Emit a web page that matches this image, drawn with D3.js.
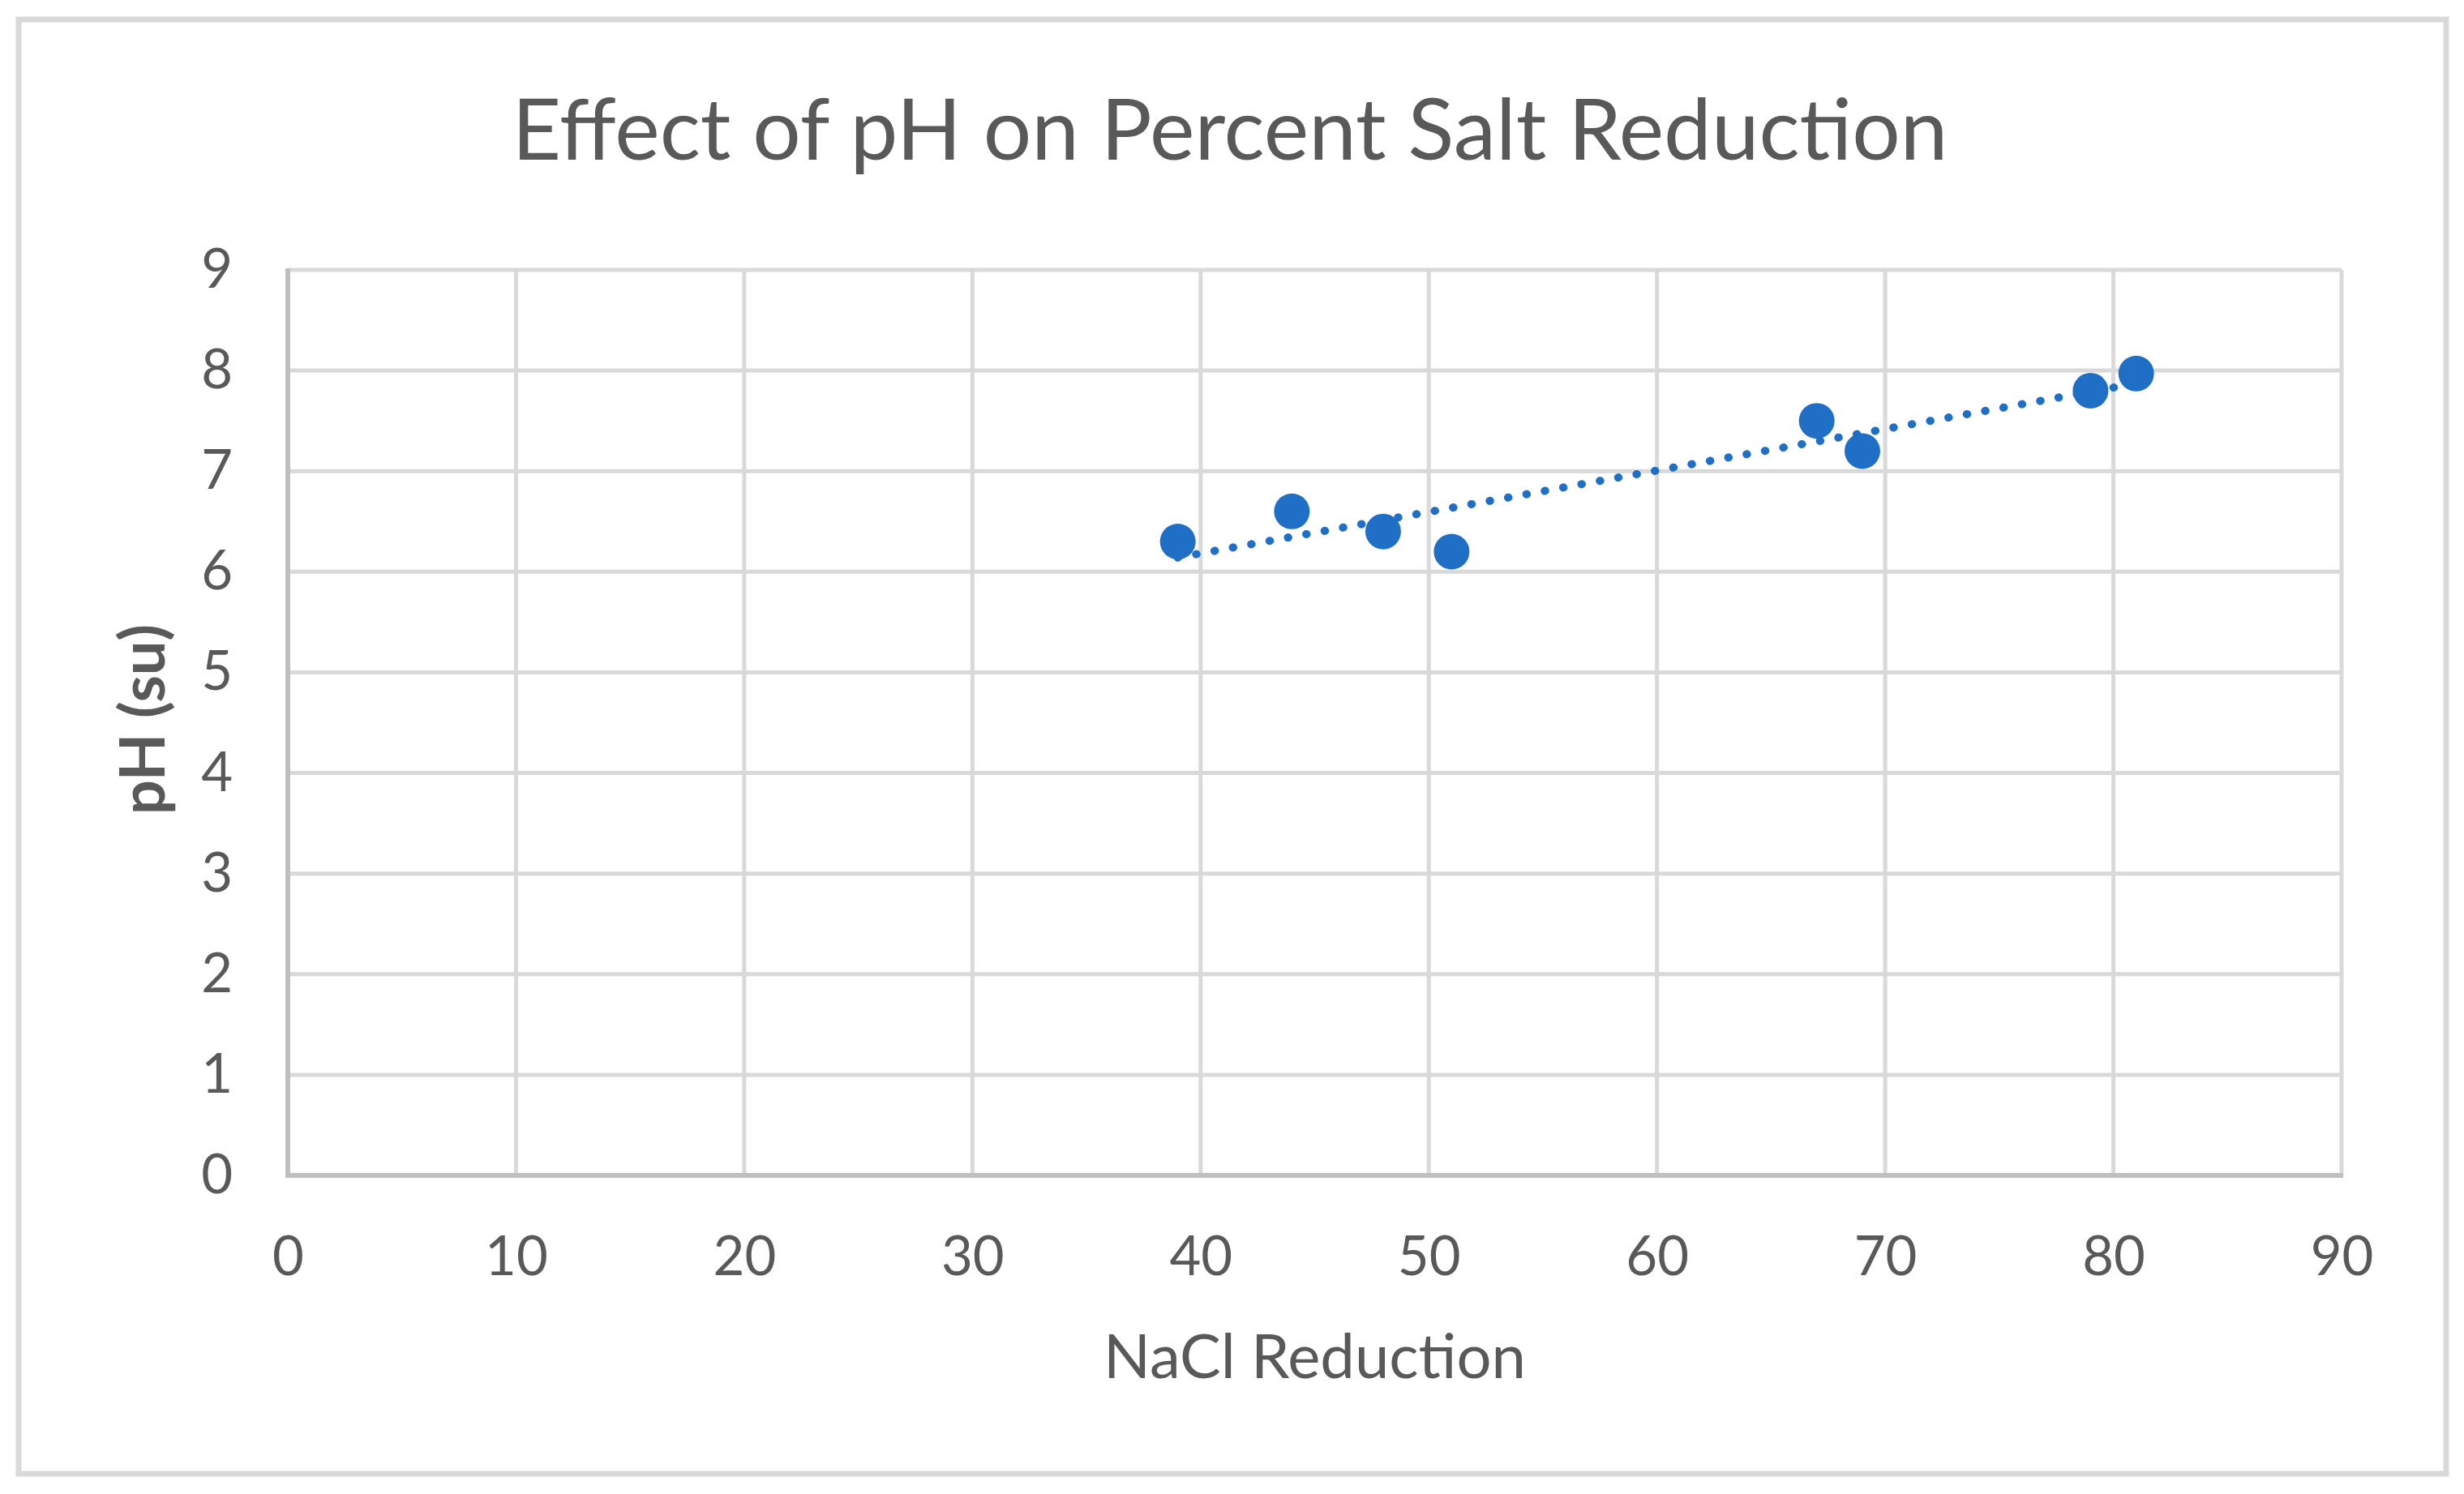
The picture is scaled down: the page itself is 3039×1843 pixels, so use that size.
<!DOCTYPE html>
<html>
<head>
<meta charset="utf-8">
<script src="https://cdn.jsdelivr.net/npm/d3@7"></script>
<style>
	body { margin: 0; background: #fff; }
	text { font-family: Lato, "Open Sans", sans-serif; fill: #595959; }
</style>
</head>
<body>
<script>
// values
var naclReduction = [39, 44, 48, 51, 67, 69, 79, 81];
var phValues = [6.3, 6.6, 6.4, 6.2, 7.5, 7.2, 7.8, 7.97];
var xTicks = [0, 10, 20, 30, 40, 50, 60, 70, 80, 90];
var yTicks = [0, 1, 2, 3, 4, 5, 6, 7, 8, 9];

var W = 3039, H = 1843;
var margin = { top: 333, right: 151, bottom: 393, left: 355 },
	width = W - margin.left - margin.right,
	height = H - margin.top - margin.bottom;

var svg = d3.select("body").append("svg")
	.attr("width", W)
	.attr("height", H);

// outer chart border
svg.append("rect")
	.attr("x", 23).attr("y", 24)
	.attr("width", 2994).attr("height", 1794)
	.attr("fill", "#fff")
	.attr("stroke", "#d9d9d9")
	.attr("stroke-width", 7);

var g = svg.append("g")
	.attr("transform", "translate(" + margin.left + "," + margin.top + ")");

var x = d3.scaleLinear().domain([0, 90]).range([0, width]);
var y = d3.scaleLinear().domain([0, 9]).range([height, 0]);

// gridlines
g.selectAll(".hgrid").data(yTicks.slice(1)).enter().append("line")
	.attr("x1", 0).attr("x2", width)
	.attr("y1", function (d) { return y(d); })
	.attr("y2", function (d) { return y(d); })
	.attr("stroke", "#d9d9d9").attr("stroke-width", 5);
g.selectAll(".vgrid").data(xTicks.slice(1)).enter().append("line")
	.attr("y1", 0).attr("y2", height)
	.attr("x1", function (d) { return x(d); })
	.attr("x2", function (d) { return x(d); })
	.attr("stroke", "#d9d9d9").attr("stroke-width", 5);

// axis lines
g.append("line").attr("x1", 0).attr("x2", 0).attr("y1", -2).attr("y2", height + 3)
	.attr("stroke", "#bfbfbf").attr("stroke-width", 6);
g.append("line").attr("x1", -3).attr("x2", width + 2).attr("y1", height).attr("y2", height)
	.attr("stroke", "#bfbfbf").attr("stroke-width", 6);

// tick labels
var xAxis = g.append("g")
	.attr("transform", "translate(0," + height + ")")
	.call(d3.axisBottom(x).tickValues(xTicks).tickSize(0).tickPadding(75));
var yAxis = g.append("g")
	.call(d3.axisLeft(y).tickValues(yTicks).tickSize(0).tickPadding(68));
[xAxis, yAxis].forEach(function (a) {
	a.select(".domain").remove();
	a.selectAll("text").attr("font-family", null).attr("font-size", null)
		.style("font-size", "67px").style("fill", "#595959");
});

// linear trendline over the data range
var n = naclReduction.length;
var mx = d3.mean(naclReduction), my = d3.mean(phValues);
var sxy = 0, sxx = 0;
for (var i = 0; i < n; i++) {
	sxy += (naclReduction[i] - mx) * (phValues[i] - my);
	sxx += (naclReduction[i] - mx) * (naclReduction[i] - mx);
}
var slope = sxy / sxx, icpt = my - slope * mx;
var xr = d3.extent(naclReduction);
g.append("line")
	.attr("x1", x(xr[0])).attr("y1", y(slope * xr[0] + icpt))
	.attr("x2", x(xr[1])).attr("y2", y(slope * xr[1] + icpt))
	.attr("stroke", "#1f6fc6")
	.attr("stroke-width", 10)
	.attr("stroke-linecap", "round")
	.attr("stroke-dasharray", "0.5,22.5");

// markers
g.selectAll(".dot").data(naclReduction).enter().append("circle")
	.attr("cx", function (d) { return x(d); })
	.attr("cy", function (d, i) { return y(phValues[i]); })
	.attr("r", 22)
	.attr("fill", "#1f6fc6");

// titles
svg.append("text")
	.attr("x", 1517).attr("y", 197)
	.attr("text-anchor", "middle")
	.style("font-size", "105px")
	.text("Effect of pH on Percent Salt Reduction");

svg.append("text")
	.attr("x", margin.left + width / 2).attr("y", 1700)
	.attr("text-anchor", "middle")
	.style("font-size", "76px")
	.text("NaCl Reduction");

svg.append("text")
	.attr("transform", "translate(203," + (margin.top + height / 2 - 4) + ") rotate(-90)")
	.attr("text-anchor", "middle")
	.style("font-size", "76px")
	.style("font-weight", "bold")
	.text("pH (su)");
</script>
</body>
</html>
